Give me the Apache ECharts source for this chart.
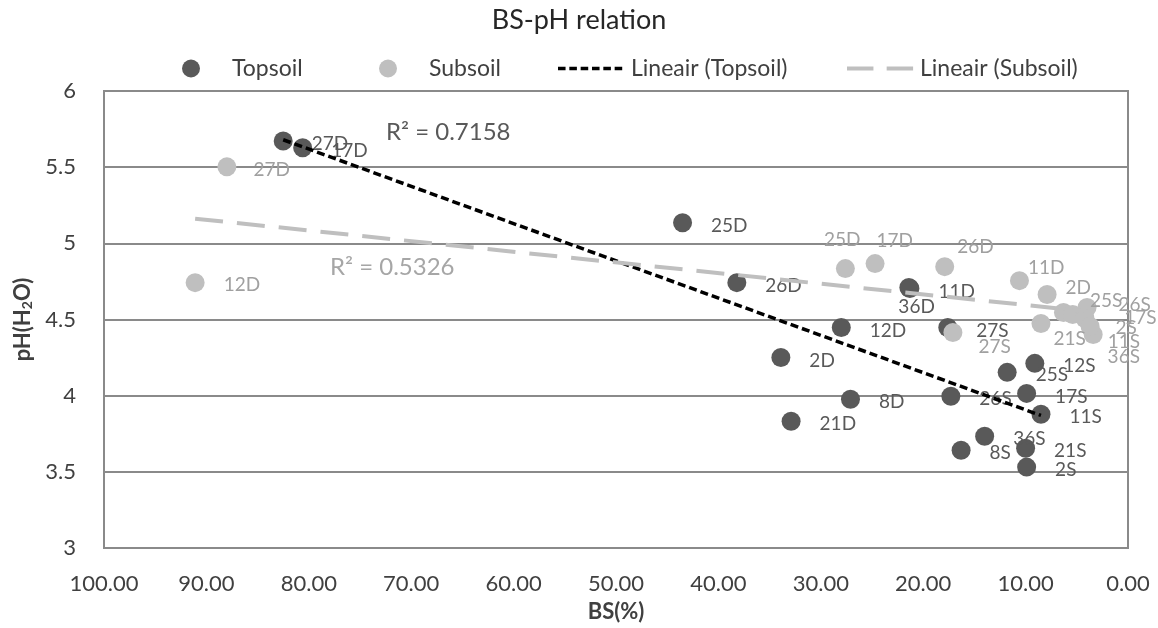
<!DOCTYPE html>
<html>
<head>
<meta charset="utf-8">
<script src="https://cdn.jsdelivr.net/npm/echarts@6/dist/echarts.min.js"></script>
<style>
  html, body { margin: 0; padding: 0; background: #fff; }
  #chart { width: 1158px; height: 628px; }
</style>
</head>
<body>
<div id="chart"></div>
<script>
// ---- Data ----
const topNames = ['27D','17D','25D','26D','11D','36D','12D','27S','2D','8D','21D','25S','12S','26S','17S','11S','36S','8S','21S','2S'];
const topBS    = [82.5, 80.6, 43.5, 38.2, 21.3, 21.4, 28.0, 17.6, 33.9, 27.1, 32.9, 11.8, 9.1, 17.3, 9.9, 8.5, 14.0, 16.3, 10.0, 9.9];
const topPH    = [5.672, 5.627, 5.135, 4.742, 4.703, 4.71, 4.448, 4.448, 4.251, 3.976, 3.832, 4.153, 4.212, 3.996, 4.015, 3.878, 3.734, 3.642, 3.655, 3.531];

const subNames = ['27D','12D','25D','17D','26D','11D','2D','27S','21S','25S','26S','17S','2S','11S','36S'];
const subBS    = [88.0, 91.1, 27.6, 24.7, 17.9, 10.6, 7.9, 17.1, 8.5, 6.3, 4.0, 5.4, 4.2, 3.4, 3.7];
const subPH    = [5.502, 4.742, 4.834, 4.867, 4.847, 4.755, 4.664, 4.415, 4.474, 4.546, 4.579, 4.533, 4.507, 4.402, 4.454];

const topTrendBS = [82.5, 8.5];
const topTrendPH = [5.68, 3.87];
const subTrendBS = [91.1, 3.4];
const subTrendPH = [5.162, 4.549];

const r2Top = '0.7158';
const r2Sub = '0.5326';

const seriesNames = ['Topsoil', 'Subsoil', 'Lineair (Topsoil)', 'Lineair (Subsoil)'];
const titleText = 'BS-pH relation';
const xName = 'BS(%)';

// ---- Layout (label nudges, not data) ----
const nudge = {
  'Topsoil|36D': [-39, 19],
  'Subsoil|27D': [-2, 3],
  'Subsoil|12D': [0, 2],
  'Subsoil|25D': [-50, -29],
  'Subsoil|17D': [-27, -23],
  'Subsoil|26D': [-16, -20],
  'Subsoil|11D': [-20, -13],
  'Subsoil|2D':  [-10, -7],
  'Subsoil|27S': [-3, 14],
  'Subsoil|21S': [-16, 15],
  'Subsoil|25S': [-2, -12],
  'Subsoil|26S': [3, -3],
  'Subsoil|17S': [23, 3],
  'Subsoil|2S':  [2, 9],
  'Subsoil|11S': [-14, 7],
  'Subsoil|36S': [-11, 30]
};

function pts(series, names, xs, ys) {
  return names.map((n, i) => ({
    name: n,
    value: [xs[i], ys[i]],
    label: { offset: nudge[series + '|' + n] || [0, 3] }
  }));
}
function line(xs, ys) { return xs.map((x, i) => [x, ys[i]]); }

// dashed legend icons (72 x 18 box, dashes centred vertically)
function dashIcon(dash, gap, thick) {
  const y0 = 9 - thick / 2;
  let p = 'path://M0,0h0.01v0.01h-0.01z M72,18h0.01v0.01h-0.01z';
  for (let x = 0; x < 72; x += dash + gap) {
    const w = Math.min(dash, 72 - x);
    p += ' M' + x + ',' + y0 + 'h' + w + 'v' + thick + 'h' + (-w) + 'z';
  }
  return p;
}

const FONT = 'Lato, "Open Sans", sans-serif';
const DARK = '#595959';
const LIGHT = '#BFBFBF';
const GRID = '#8a8a8a';

const chart = echarts.init(document.getElementById('chart'), null, { renderer: 'canvas' });

const legendBase = {
  top: 52, itemWidth: 72, itemHeight: 18, itemGap: 0, symbolKeepAspect: false,
  textStyle: { fontFamily: FONT, fontSize: 23, color: '#404040' },
  itemStyle: { borderWidth: 0 },
  selectedMode: false
};

chart.setOption({
  animation: false,
  textStyle: { fontFamily: FONT },
  title: {
    text: titleText, left: 'center', top: 2,
    textStyle: { fontFamily: FONT, fontSize: 27, fontWeight: 'normal', color: '#262626' }
  },
  legend: [
    Object.assign({}, legendBase, { left: 177, data: [seriesNames[0]] }),
    Object.assign({}, legendBase, { left: 374, data: [seriesNames[1]] }),
    Object.assign({}, legendBase, { left: 553, itemWidth: 68, data: [{ name: seriesNames[2], icon: dashIcon(8, 4, 3.5) }] }),
    Object.assign({}, legendBase, { left: 842, itemWidth: 68, data: [{ name: seriesNames[3], icon: dashIcon(28, 14, 4) }] })
  ],
  grid: {
    left: 104, right: 30, top: 91, bottom: 79,
    show: true, borderColor: GRID, borderWidth: 2, containLabel: false
  },
  xAxis: {
    type: 'value', min: 0, max: 100, interval: 10, inverse: true,
    name: xName, nameLocation: 'middle', nameGap: 53,
    nameTextStyle: { fontFamily: FONT, fontSize: 22, fontWeight: 'bold', color: '#404040' },
    axisLine: { show: false }, axisTick: { show: false },
    splitLine: { show: false },
    axisLabel: { margin: 25, fontSize: 22, color: '#404040', fontFamily: FONT,
      formatter: v => v.toFixed(2) }
  },
  yAxis: {
    type: 'value', min: 3, max: 6, interval: 0.5,
    name: 'pH(H{s|2}O)', nameLocation: 'middle', nameGap: 61,
    nameTextStyle: { fontFamily: FONT, fontSize: 22, fontWeight: 'bold', color: '#404040',
      rich: { s: { fontFamily: FONT, fontSize: 14, fontWeight: 'bold', color: '#404040', verticalAlign: 'bottom', padding: [8, 0, 0, 0] } } },
    axisLine: { show: false }, axisTick: { show: false },
    splitLine: { show: true, lineStyle: { color: GRID, width: 2 } },
    axisLabel: { margin: 28, fontSize: 22, color: '#404040', fontFamily: FONT }
  },
  graphic: [
    { type: 'text', left: 386, top: 120, style: { text: 'R² = ' + r2Top, fontFamily: FONT, fontSize: 24, fill: DARK } },
    { type: 'text', left: 330, top: 255, style: { text: 'R² = ' + r2Sub, fontFamily: FONT, fontSize: 24, fill: '#A6A6A6' } }
  ],
  series: [
    {
      name: seriesNames[0], type: 'scatter', symbol: 'circle', symbolSize: 19,
      itemStyle: { color: DARK, opacity: 1 },
      label: { show: true, position: 'right', distance: 19, formatter: '{b}',
        fontFamily: FONT, fontSize: 19, color: DARK },
      emphasis: { disabled: true },
      data: pts('Topsoil', topNames, topBS, topPH), z: 2
    },
    {
      name: seriesNames[1], type: 'scatter', symbol: 'circle', symbolSize: 19,
      itemStyle: { color: LIGHT, opacity: 1 },
      label: { show: true, position: 'right', distance: 19, formatter: '{b}',
        fontFamily: FONT, fontSize: 19, color: '#A0A0A0' },
      emphasis: { disabled: true },
      data: pts('Subsoil', subNames, subBS, subPH), z: 3
    },
    {
      name: seriesNames[2], type: 'line', symbol: 'none', z: 4,
      lineStyle: { color: '#000', width: 3.5, type: [8, 4] },
      itemStyle: { color: '#000' },
      emphasis: { disabled: true },
      data: line(topTrendBS, topTrendPH)
    },
    {
      name: seriesNames[3], type: 'line', symbol: 'none', z: 4,
      lineStyle: { color: LIGHT, width: 4, type: [28, 14] },
      itemStyle: { color: LIGHT },
      emphasis: { disabled: true },
      data: line(subTrendBS, subTrendPH)
    }
  ]
});
</script>
</body>
</html>
